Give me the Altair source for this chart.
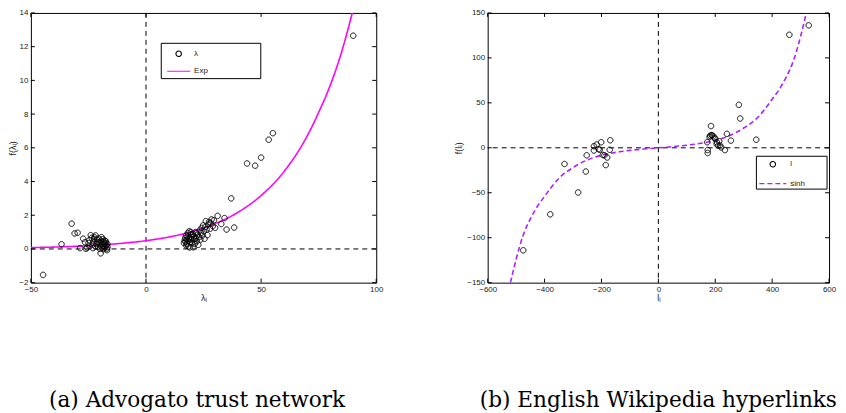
import altair as alt
import pandas as pd

# ---------------- panel (a): Advogato trust network ----------------
lam_x = [-44.7, -36.7, -32.3, -31.0, -29.7, -28.6, -27.3, -26.1, -25.6, -25.0, -24.6, -24.0,
         -23.6, -23.2, -22.8, -22.4, -21.9, -21.5, -21.2, -20.8, -20.5, -20.2, -19.9, -19.7,
         -19.5, -19.2, -19.0, -18.8, -18.6, -18.4, -18.2, -18.0, -17.8, -17.6, -17.4, -17.2,
         -17.0, -16.9, -16.8, -16.7, -22.0, -23.0, -20.0, -18.5, -21.0, -24.5, -26.5, -22.5,
         -19.3, -17.9,
         16.5, 16.8, 17.0, 17.2, 17.4, 17.6, 17.8, 18.0, 18.2, 18.4, 18.6, 18.8, 19.0, 19.2,
         19.4, 19.6, 19.8, 20.0, 20.3, 20.6, 20.9, 21.2, 21.5, 21.8, 22.1, 22.4, 22.7, 23.0,
         23.3, 23.6, 23.9, 24.2, 24.5, 24.8, 25.1, 25.4, 25.7, 26.0, 26.3, 26.7, 27.0, 27.4,
         27.8, 28.1, 28.5, 29.0, 29.5, 30.0, 31.1, 32.7, 34.1, 35.0, 37.0, 38.3, 43.9, 47.4,
         50.0, 53.3, 55.1, 90.0, 17.5, 18.5, 20.5, 21.0, 22.0, 19.5]
lam_y = [-1.54, 0.28, 1.50, 0.92, 0.96, 0.05, 0.61, 0.01, 0.08, 0.35, 0.52, 0.82,
         0.66, 0.25, 0.45, 0.70, 0.80, 0.30, 0.55, 0.12, 0.62, 0.38, 0.22, -0.26,
         0.48, 0.10, 0.33, 0.58, 0.18, 0.42, 0.05, 0.28, 0.36, 0.15, 0.45, 0.22,
         0.02, -0.07, 0.30, 0.12, 0.15, 0.05, 0.00, -0.02, 0.40, 0.15, 0.40, 0.60,
         0.70, 0.50,
         0.35, 0.50, 0.65, 0.42, 0.80, 0.55, 0.30, 0.72, 0.95, 0.48, 0.62, 1.05, 0.09, 0.40,
         0.85, 0.58, 0.70, 0.35, 0.90, 0.52, 0.75, 0.30, 1.00, 0.62, 0.45, 0.85, 0.24, 0.70,
         1.10, 0.55, 0.95, 1.25, 0.80, 1.40, 1.05, 0.60, 1.30, 1.65, 1.15, 0.82, 1.45, 1.60,
         1.20, 1.54, 1.75, 1.35, 1.70, 1.25, 1.96, 1.48, 1.83, 1.15, 3.00, 1.27, 5.07, 4.94,
         5.42, 6.48, 6.87, 12.65, 0.20, 0.15, 0.10, 0.60, 0.95, 1.00]
exp_x = [-50, -40, -30, -20, -10, 0, 10, 20, 30, 40, 50, 60, 70, 75, 80, 85, 89.6]
exp_y = [0.08, 0.11, 0.16, 0.23, 0.34, 0.49, 0.71, 1.03, 1.50, 2.18, 3.17, 4.6, 6.7, 8.1, 9.7, 11.7, 14.0]
a_names = ["λ", "Exp"]
a_xticks = [-50, 0, 50, 100]
a_yticks = [-2, 0, 2, 4, 6, 8, 10, 12, 14]

# ---------------- panel (b): English Wikipedia hyperlinks ----------------
l_x = [-475, -380, -330, -282, -255, -252, -226.5, -226.5, -217, -206, -201, -189.6,
       -185, -180, -171, -169, -195, -210,
       172, 173.6, 173.6, 185, 180, 182, 187, 188.5, 193, 197, 200, 205.7, 205,
       210, 214, 217, 221, 234, 241, 255, 287.6, 283, 344, 460.5, 528.5]
l_y = [-114, -74, -18, -49.7, -26.4, -8.3, 1.8, -3.0, 3.6, -2.2, 6.2, -8.3,
       -19.2, -10.8, -2.2, 8.4, -8.0, -1.5,
       6.2, -2.5, -5.8, 24.2, 12.0, 13.4, 14.2, 13.8, 12.7, 11.2, 10.0, 6.2, 4.0,
       2.5, 7.3, 2.5, 0.4, -2.5, 15.5, 8.0, 32.6, 47.8, 9.0, 125.7, 136.2]
sinh_x = [-520, -500, -475, -450, -425, -400, -350, -300, -250, -200, -150, -100, -50, 0,
          50, 100, 150, 200, 250, 300, 350, 400, 425, 450, 475, 500, 520]
sinh_y = [-150, -124, -97, -79, -65, -54, -34, -22, -13.5, -8.3, -5.1, -2.9, -1.3, 0,
          1.3, 2.9, 5.1, 8.3, 13.5, 22, 34, 54, 65, 79, 97, 124, 150]
b_names = ["l", "sinh"]
b_xticks = [-600, -400, -200, 0, 200, 400, 600]
b_yticks = [-150, -100, -50, 0, 50, 100, 150]

SANS = "Liberation Sans"


def panel(px, py, cx, cy, names, line_color, dash, line_len, xdom, ydom, xt, yt,
          xtitle, ytitle, caption, W, H, box, legx, legy, rowpad, dx, ytp):
    xs = alt.Scale(domain=xdom, nice=False, zero=False)
    ys = alt.Scale(domain=ydom, nice=False, zero=False)
    xax = alt.Axis(values=xt, ticks=False, domain=False, grid=False, title=xtitle,
                   labelFont=SANS, labelFontSize=8, labelColor="#222", labelPadding=3,
                   labelFlush=False, titleFont=SANS, titleFontSize=9,
                   titleFontWeight="normal", titleColor="#222", titlePadding=0)
    yax = alt.Axis(values=yt, ticks=False, domain=False, grid=False, title=ytitle,
                   labelFont=SANS, labelFontSize=8, labelColor="#222", labelPadding=3,
                   labelFlush=False, titleFont=SANS, titleFontSize=9,
                   titleFontWeight="normal", titleColor="#222", titlePadding=ytp)
    X = lambda f: alt.X(f, type="quantitative", scale=xs, axis=xax)
    Y = lambda f: alt.Y(f, type="quantitative", scale=ys, axis=yax)

    pts = pd.DataFrame({"x": px, "y": py, "s": names[0]})
    crv = pd.DataFrame({"x": cx, "y": cy})
    xtk = pd.DataFrame({"x": xt})
    ytk = pd.DataFrame({"y": yt})
    zx = pd.DataFrame({"x": [0]})
    zy = pd.DataFrame({"y": [0]})
    one = pd.DataFrame({"k": [0]})

    leg = alt.Legend(title=None, orient="none", legendX=legx, legendY=legy,
                     padding=0, labelFont=SANS, labelFontSize=8, labelColor="#222",
                     labelOffset=3, rowPadding=rowpad, symbolStrokeWidth=1.1)

    ref_v = alt.Chart(zx).mark_rule(color="black", strokeDash=[5, 4], strokeWidth=1).encode(x=X("x"))
    ref_h = alt.Chart(zy).mark_rule(color="black", strokeDash=[5, 4], strokeWidth=1).encode(y=Y("y"))

    line = alt.Chart(crv).mark_line(color=line_color, strokeWidth=1.6, clip=True,
                                    interpolate="monotone", strokeDash=dash).encode(
        x=X("x"), y=Y("y"))

    points = alt.Chart(pts).mark_point(filled=False, strokeWidth=1, opacity=1).encode(
        x=X("x"), y=Y("y"),
        color=alt.Color("s:N", scale=alt.Scale(domain=names, range=["black", line_color]), legend=leg),
        shape=alt.Shape("s:N", scale=alt.Scale(domain=names, range=["circle", "stroke"]), legend=leg),
        size=alt.Size("s:N", scale=alt.Scale(domain=names, range=[30, line_len * line_len]), legend=leg),
        strokeDash=alt.StrokeDash("s:N", scale=alt.Scale(domain=names, range=[[1, 0], dash]), legend=leg),
    )

    legbox = alt.Chart(one).mark_rect(fill="white", stroke="black", strokeWidth=1).encode(
        x=alt.value(box[0]), x2=alt.value(box[1]), y=alt.value(box[2]), y2=alt.value(box[3]))

    tk_b = alt.Chart(xtk).mark_rule(color="black").encode(x=X("x"), y=alt.value(H), y2=alt.value(H - 4))
    tk_t = alt.Chart(xtk).mark_rule(color="black").encode(x=X("x"), y=alt.value(0), y2=alt.value(4))
    tk_l = alt.Chart(ytk).mark_rule(color="black").encode(y=Y("y"), x=alt.value(0), x2=alt.value(4))
    tk_r = alt.Chart(ytk).mark_rule(color="black").encode(y=Y("y"), x=alt.value(W - 4), x2=alt.value(W))

    return alt.layer(ref_v, ref_h, line, points, legbox, tk_b, tk_t, tk_l, tk_r).properties(
        width=W, height=H,
        title=alt.TitleParams(caption, orient="bottom", anchor="middle", frame="group",
                              font="DejaVu Serif", fontSize=21.7, fontWeight="normal",
                              color="black", offset=88, dx=dx),
    )


left = panel(lam_x, lam_y, exp_x, exp_y, a_names, "#ff00ff", [1, 0], 23,
             [-50, 100], [-2, 14], a_xticks, a_yticks, "λᵢ", "f(λᵢ)",
             "(a) Advogato trust network", 347, 271,
             (131, 231, 30.5, 66), 136, 37, -12, -6.5, 1)
right = panel(l_x, l_y, sinh_x, sinh_y, b_names, "#aa22ff", [5, 3], 27,
              [-600, 600], [-150, 150], b_xticks, b_yticks, "lᵢ", "f(lᵢ)",
              "(b) English Wikipedia hyperlinks", 343, 271,
              (270, 341, 144, 177), 272, 148, -14, 0, 3)

chart = alt.hconcat(left, right, spacing=70).resolve_scale(
    color="independent", shape="independent", size="independent", strokeDash="independent"
).resolve_legend(
    color="independent", shape="independent", size="independent", strokeDash="independent"
).properties(
    padding={"top": -1, "left": 0, "right": 0, "bottom": 0}, background="white"
).configure_view(stroke="black", strokeWidth=1)

chart.save("out.html", embed_options={"renderer": "svg", "actions": False})
